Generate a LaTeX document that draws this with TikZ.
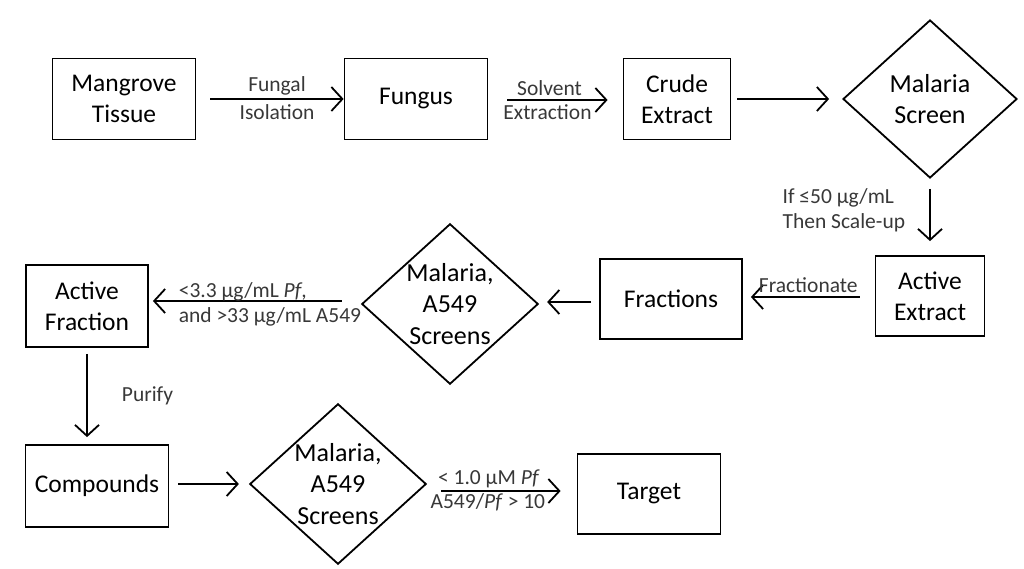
\documentclass[tikz,border=0pt]{standalone}
\usepackage{fontspec}
\setmainfont{Carlito}
\usetikzlibrary{shapes,arrows.meta}
\tikzset{
  box/.style={draw, line width=1.8pt, minimum width=143pt, minimum height=81pt, inner sep=0pt, align=center, font=\fontsize{25.5}{31}\selectfont},
  screen/.style={draw, diamond, line width=1.8pt, aspect=1.1, minimum width=174pt, minimum height=158pt, inner sep=0pt, align=center, font=\fontsize{26}{31.5}\selectfont},
  flow/.style={line width=1.8pt, -{Straight Barb[length=11pt,width=24pt]}},
  lab/.style={font=\fontsize{21.5}{25}\selectfont, text=black!78, inner sep=2pt}
}

\begin{document}
\begin{tikzpicture}[x=1pt,y=-1pt]
\useasboundingbox (0,0) rectangle (1024,569);
\node[box] (mt) at (124,99) {Mangrove\\Tissue};
\node[box] (fu) at (416,99) {Fungus};
\node[box, minimum width=107pt] (ce) at (677,99) {Crude\\Extract};
\node[screen] (ms) at (930,99) {Malaria\\Screen};
\node[box, minimum width=109pt, minimum height=80pt] (ae) at (930,296) {Active\\Extract};
\node[box, minimum width=142pt, minimum height=80pt] (fr) at (671,299) {Fractions};
\node[screen, minimum width=173pt, minimum height=159pt] (s2) at (450,304) {Malaria,\\A549\\Screens};
\node[box, minimum width=122pt, minimum height=82pt] (af) at (87,306) {Active\\Fraction};
\node[box, minimum height=82pt] (co) at (97,486) {Compounds};
\node[screen, minimum width=173pt, minimum height=159pt] (s3) at (338,484) {Malaria,\\A549\\Screens};
\node[box, minimum height=80pt] (ta) at (649,494) {Target};
\draw[flow] ([xshift=14pt]mt.east) -- node[lab,above=1pt]{Fungal} node[lab,below=3pt]{Isolation} (fu.west);
\draw[flow] ([xshift=19pt,yshift=-1pt]fu.east) -- node[lab,above=1pt,xshift=-8pt]{Solvent} node[lab,below=2pt,xshift=-10pt]{Extraction} ([xshift=-15pt,yshift=-1pt]ce.west);
\draw[flow] ([xshift=6pt]ce.east) -- ([xshift=-13pt]ms.west);
\draw[flow] ([yshift=-10pt]ms.south) -- node[lab,left,align=left,xshift=-22pt,yshift=5pt]{If ≤50 µg/mL\\Then Scale-up} ([yshift=14pt]ae.north);
\draw[flow] ([xshift=-15pt,yshift=-1pt]ae.west) -- node[lab,above=1pt,xshift=3pt]{Fractionate} ([xshift=8pt,yshift=2pt]fr.east);
\draw[flow] ([xshift=-8pt,yshift=-3pt]fr.west) -- ([xshift=8pt,yshift=2pt]s2.east);
\draw[flow] ([xshift=-19pt,yshift=3pt]s2.west) -- node[lab,pos=1,above right,xshift=23pt,yshift=-3pt]{<3.3 µg/mL \textit{Pf},} node[lab,pos=1,below right,xshift=23pt,yshift=-4pt]{and >33 µg/mL A549} ([xshift=4pt,yshift=5pt]af.east);
\draw[flow] ([yshift=-6pt]af.south) -- node[lab,right,xshift=32pt]{Purify} ([yshift=7pt,xshift=-10pt]co.north);
\draw[flow] ([xshift=9pt,yshift=2pt]co.east) -- ([xshift=-10pt]s3.west);
\draw[flow] ([xshift=14pt,yshift=-7pt]s3.east) -- node[lab,above,xshift=-12pt]{< 1.0 µM \textit{Pf}} node[lab,below,xshift=-13pt]{A549/\textit{Pf} > 10} ([xshift=-16pt,yshift=3pt]ta.west);
\end{tikzpicture}
\end{document}
